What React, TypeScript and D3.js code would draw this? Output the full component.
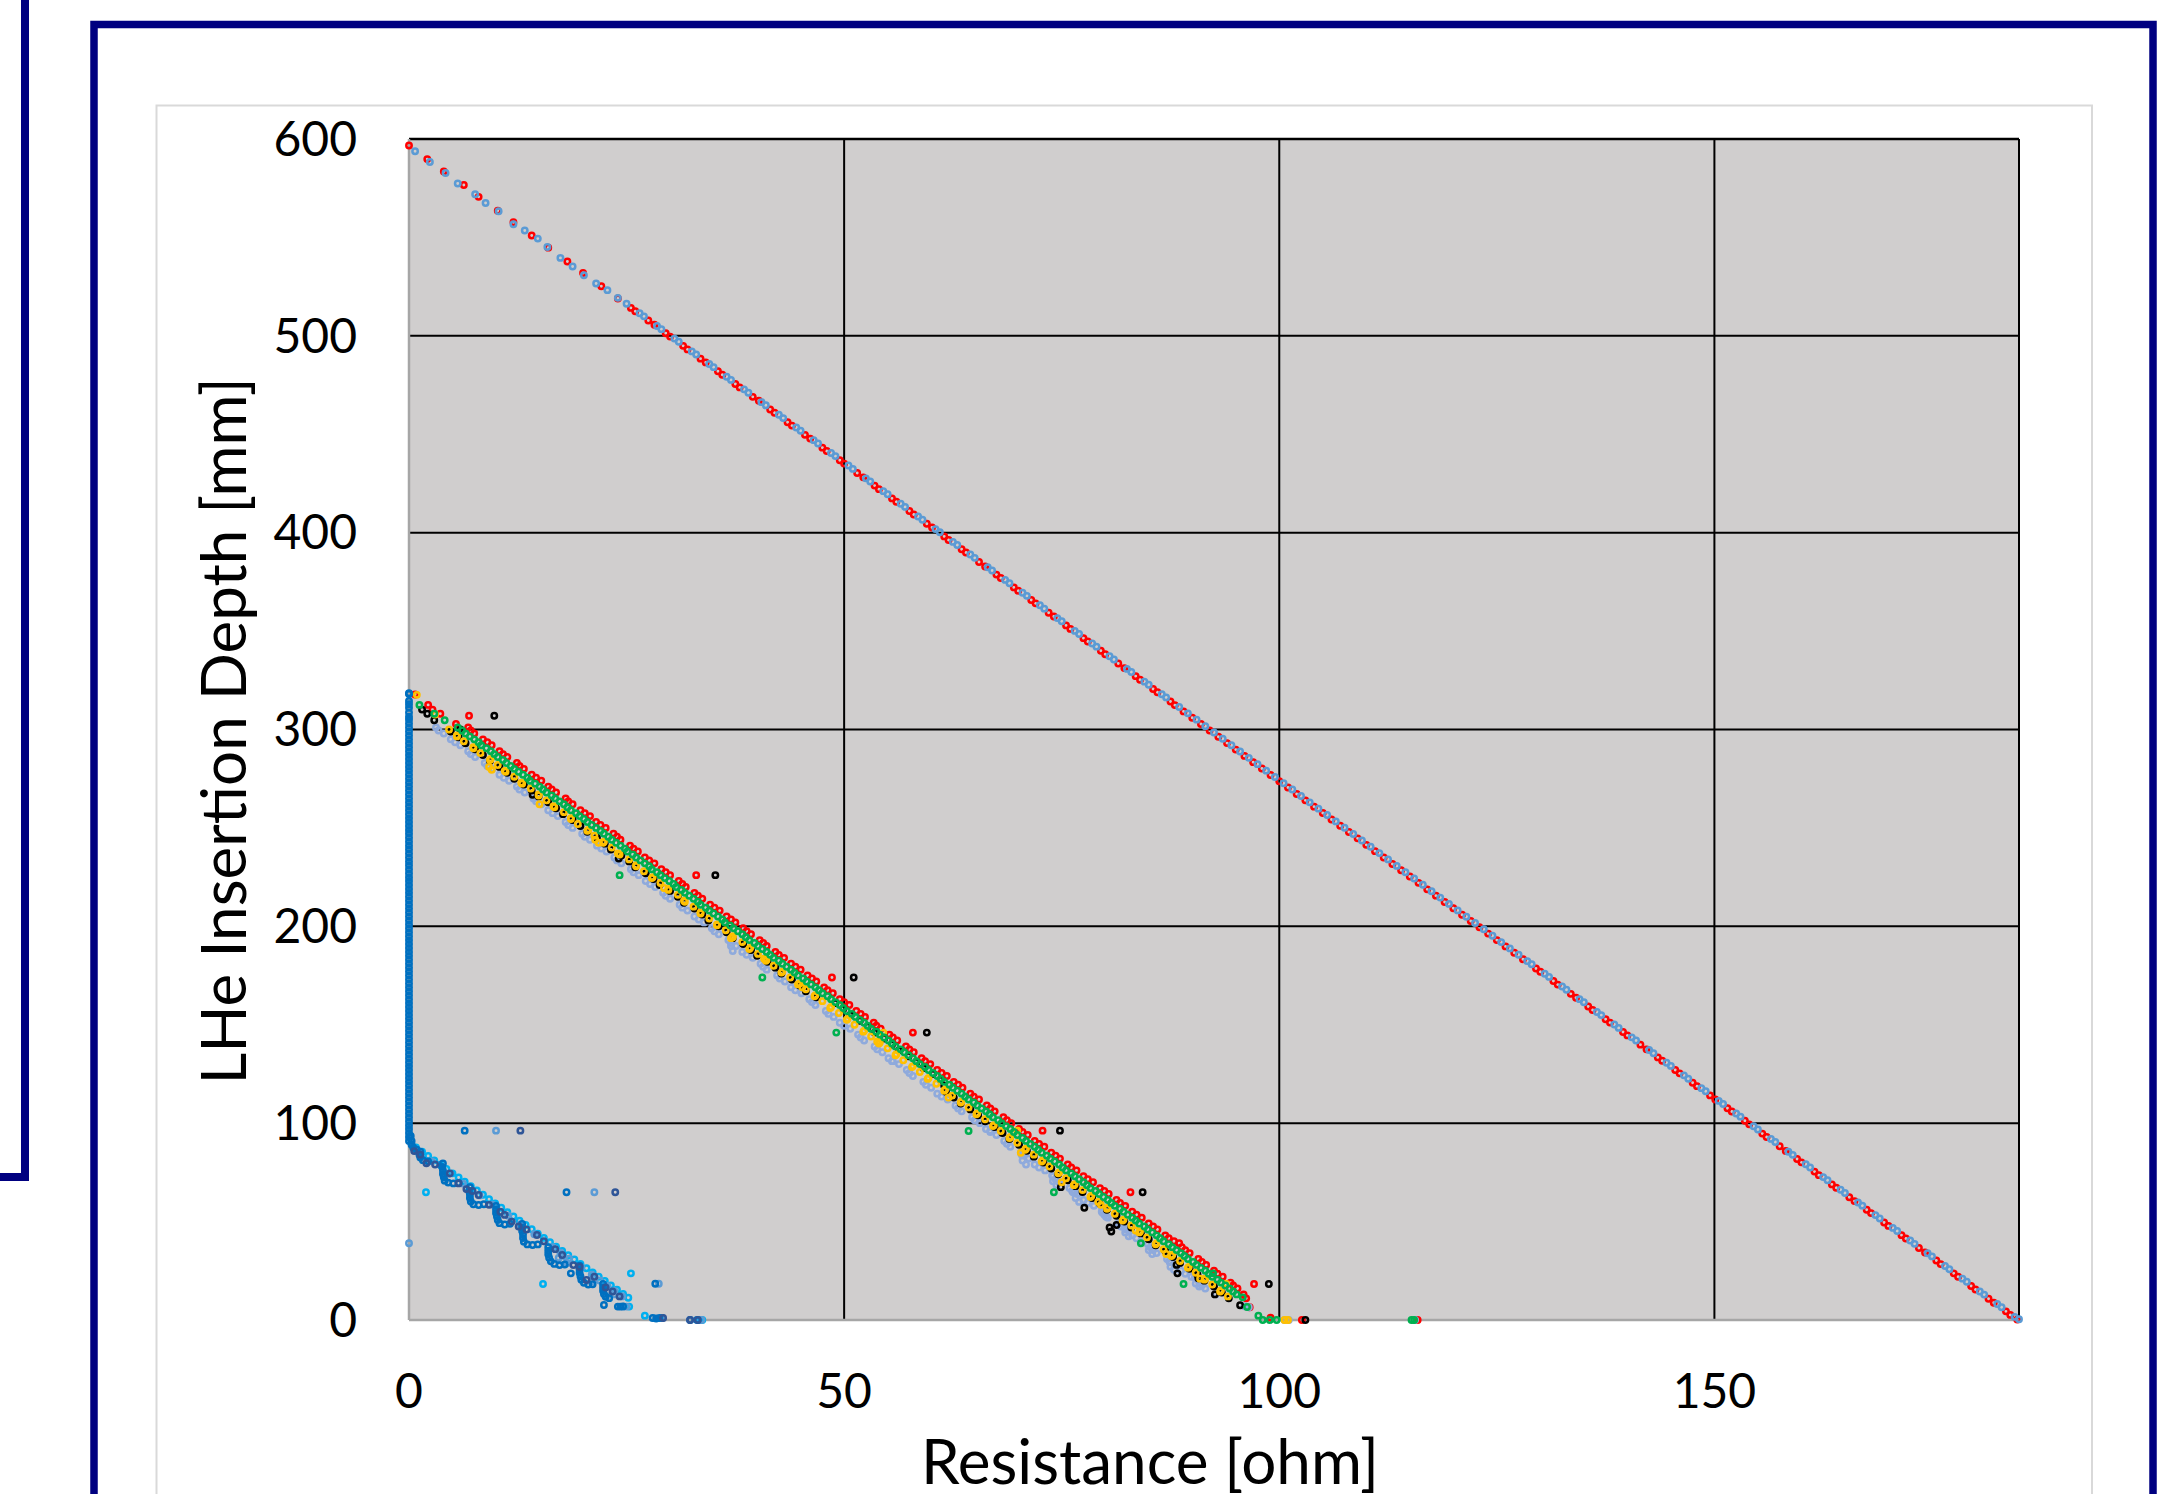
import React from "react";
import * as d3 from "d3";

type Pt = [number, number];

const xTicks = [0, 50, 100, 150];
const yTicks = [0, 100, 200, 300, 400, 500, 600];
const xTitle = "Resistance [ohm]";
const yTitle = "LHe Insertion Depth [mm]";

// long probe, two runs
const longRed: Pt[] = [
  [0, 596.7], [2.1, 589.8], [4, 583.5], [6.3, 576.6], [8, 570.6], [10.2, 563.6], [12, 557.7], [14.1, 551.0], [16, 544.8], [18.2, 537.8],
  [20, 531.9], [22.1, 525.2], [24, 519.0], [25.5, 514.2], [26, 512.5], [27.5, 507.8], [28.2, 505.6], [29.5, 501.3], [30, 499.6], [31.5, 494.9],
  [32, 493.1], [33.5, 488.4], [34.1, 486.5], [35.5, 482.0], [36, 480.2], [37.5, 475.5], [38, 473.8], [39.5, 469.0], [40.2, 467.0], [41.5, 462.6],
  [42, 460.9], [43.5, 456.1], [44, 454.4], [45.5, 449.7], [46.1, 447.8], [47.5, 443.2], [48, 441.5], [49.5, 436.8], [50, 435.1], [51.5, 430.3],
  [52.2, 428.1], [53.5, 423.9], [54, 422.1], [55.5, 417.4], [56, 415.7], [57.5, 411.0], [58, 409.2], [59.5, 404.5], [60.1, 402.6], [61.5, 398.1],
  [62, 396.3], [63.5, 391.6], [64, 389.9], [65.5, 385.1], [66.2, 382.8], [67.5, 378.7], [68, 377.0], [69.5, 372.2], [70, 370.5], [71.5, 365.8],
  [72, 364.1], [73.5, 359.3], [74.1, 357.4], [75.5, 352.9], [76, 351.1], [77.5, 346.4], [78, 344.7], [79.5, 340.0], [80, 338.2], [81.5, 333.5],
  [82.2, 331.2], [83.5, 327.1], [84, 325.3], [85.5, 320.6], [86, 318.9], [87.5, 314.2], [88, 312.4], [89, 309.2], [90, 306.0], [91, 302.8],
  [92, 299.5], [93, 296.3], [94, 293.1], [95, 289.8], [96, 286.6], [97, 283.4], [98, 280.2], [99, 276.9], [100, 273.7], [101, 270.5],
  [102, 267.2], [103, 264.0], [104, 260.8], [105, 257.6], [106, 254.3], [107, 251.1], [108, 247.9], [109, 244.7], [110, 241.4], [111, 238.2],
  [112, 235.0], [113, 231.7], [114, 228.5], [115, 225.3], [116, 222.1], [117, 218.8], [118, 215.6], [119, 212.4], [120, 209.2], [121, 205.9],
  [122, 202.7], [123, 199.5], [124, 196.3], [125, 193.0], [126, 189.8], [127, 186.6], [128, 183.3], [129.5, 178.6], [130, 176.9], [131.5, 172.2],
  [132, 170.4], [133.5, 165.7], [134.1, 163.7], [135.5, 159.3], [136, 157.5], [137.5, 152.8], [138, 151.1], [139.5, 146.3], [140, 144.6], [141.5, 139.9],
  [142.2, 137.5], [143.5, 133.4], [144, 131.7], [145.5, 127.0], [146, 125.3], [147.5, 120.5], [148, 118.8], [149.5, 114.1], [150.1, 112.0], [151.5, 107.6],
  [152, 105.9], [153.5, 101.2], [154, 99.4], [155.5, 94.7], [156, 93.0], [157.5, 88.3], [158.2, 85.9], [159.5, 81.8], [160, 80.1], [161.5, 75.4],
  [162, 73.6], [163.5, 68.9], [164, 67.2], [165.5, 62.4], [166.1, 60.4], [167.5, 56.0], [168, 54.3], [169.5, 49.5], [170, 47.8], [171.5, 43.1],
  [172, 41.4], [173.5, 36.6], [174.2, 34.3], [175.5, 30.2], [176, 28.4], [177.5, 23.7], [178, 22.0], [179.5, 17.3], [180, 15.5], [181.5, 10.8],
  [182.1, 8.8], [183.5, 4.4], [184, 2.6], [184.8, 0.2],
];

const longBlue: Pt[] = [
  [0.7, 593.8], [2.4, 588.3], [4.2, 582.7], [5.6, 577.4], [7.6, 571.9], [8.8, 567.5], [10.3, 563.3], [12.0, 556.7], [13.3, 553.5], [14.8, 549.4],
  [15.9, 545.1], [17.4, 539.6], [18.8, 535.2], [20.1, 530.8], [21.5, 526.6], [22.8, 523.2], [24.0, 519.3], [25, 516.3], [26.5, 511.5], [27, 509.9],
  [28.5, 505.0], [29, 503.4], [30.5, 498.6], [31, 497.0], [32.5, 492.1], [33, 490.5], [34.5, 485.7], [35, 484.1], [36.5, 479.2], [37, 477.6],
  [38.5, 472.8], [39, 471.1], [40.5, 466.3], [41, 464.7], [42.5, 459.9], [43, 458.2], [44.5, 453.4], [45, 451.8], [46.5, 447.0], [47, 445.3],
  [48.5, 440.5], [49, 438.9], [50.5, 434.1], [51, 432.4], [52.5, 427.6], [53, 426.0], [54.5, 421.1], [55, 419.5], [56.5, 414.7], [57, 413.1],
  [58.5, 408.2], [59, 406.6], [60.5, 401.8], [61, 400.2], [62.5, 395.3], [63, 393.7], [64.5, 388.9], [65, 387.2], [66.5, 382.4], [67, 380.8],
  [68.5, 376.0], [69, 374.3], [70.5, 369.5], [71, 367.9], [72.5, 363.1], [73, 361.4], [74.5, 356.6], [75, 355.0], [76.5, 350.1], [77, 348.5],
  [78.5, 343.7], [79, 342.1], [80.5, 337.2], [81, 335.6], [82.5, 330.8], [83, 329.2], [84.5, 324.3], [85, 322.7], [86.5, 317.9], [87, 316.3],
  [88.5, 311.4], [89.5, 308.2], [90.5, 305.0], [91.5, 301.7], [92.5, 298.5], [93.5, 295.3], [94.5, 292.0], [95.5, 288.8], [96.5, 285.6], [97.5, 282.4],
  [98.5, 279.1], [99.5, 275.9], [100.5, 272.7], [101.5, 269.5], [102.5, 266.2], [103.5, 263.0], [104.5, 259.8], [105.5, 256.6], [106.5, 253.3], [107.5, 250.1],
  [108.5, 246.9], [109.5, 243.6], [110.5, 240.4], [111.5, 237.2], [112.5, 234.0], [113.5, 230.7], [114.5, 227.5], [115.5, 224.3], [116.5, 221.1], [117.5, 217.8],
  [118.5, 214.6], [119.5, 211.4], [120.5, 208.1], [121.5, 204.9], [122.5, 201.7], [123.5, 198.5], [124.5, 195.2], [125.5, 192.0], [126.5, 188.8], [127.5, 185.6],
  [128.5, 182.3], [129, 180.7], [130.5, 175.9], [131, 174.3], [132.5, 169.4], [133, 167.8], [134.5, 163.0], [135, 161.4], [136.5, 156.5], [137, 154.9],
  [138.5, 150.1], [139, 148.4], [140.5, 143.6], [141, 142.0], [142.5, 137.2], [143, 135.5], [144.5, 130.7], [145, 129.1], [146.5, 124.3], [147, 122.6],
  [148.5, 117.8], [149, 116.2], [150.5, 111.3], [151, 109.7], [152.5, 104.9], [153, 103.3], [154.5, 98.4], [155, 96.8], [156.5, 92.0], [157, 90.4],
  [158.5, 85.5], [159, 83.9], [160.5, 79.1], [161, 77.5], [162.5, 72.6], [163, 71.0], [164.5, 66.2], [165, 64.5], [166.5, 59.7], [167, 58.1],
  [168.5, 53.3], [169, 51.6], [170.5, 46.8], [171, 45.2], [172.5, 40.4], [173, 38.7], [174.5, 33.9], [175, 32.3], [176.5, 27.4], [177, 25.8],
  [178.5, 21.0], [179, 19.4], [180.5, 14.5], [181, 12.9], [182.5, 8.1], [183, 6.5], [184.5, 1.6], [185, 0.4],
];

// middle probe, five runs
const bandRed: Pt[] = [
  [0.7, 317.8], [2.2, 312.5], [2.7, 310.1], [3.6, 308], [5.4, 302.8],
  [6.8, 301], [7.5, 298], [8.5, 295], [9.5, 292], [10.4, 289], [11.3, 286], [12.4, 283], [13.2, 280], [14.1, 277], [15.2, 274],
  [16.0, 271], [16.9, 268], [18.0, 265], [18.8, 262], [19.7, 259], [20.8, 256], [21.5, 253], [22.6, 250], [23.5, 247], [24.3, 244],
  [25.4, 241], [26.3, 238], [27.1, 235], [28.2, 232], [29.0, 229], [30.0, 226], [31.0, 223], [31.8, 220], [32.8, 217], [33.7, 214],
  [34.6, 211], [35.7, 208], [36.5, 205], [37.5, 202], [38.4, 199], [39.3, 196], [40.3, 193], [41.1, 190], [42.1, 187], [43.1, 184],
  [43.9, 181], [45.0, 178], [45.8, 175], [46.8, 172], [47.7, 169], [48.7, 166], [49.5, 163], [50.6, 160], [51.4, 157], [52.4, 154],
  [53.4, 151], [54.2, 148], [55.2, 145], [56.1, 142], [57.1, 139], [58.0, 136], [58.9, 133], [59.9, 130], [60.7, 127], [61.8, 124],
  [62.6, 121], [63.6, 118], [64.5, 115], [65.5, 112], [66.4, 109], [67.3, 106], [68.3, 103], [69.2, 100], [70.1, 97], [71.1, 94],
  [71.9, 91], [73.0, 88], [73.8, 85], [74.8, 82], [75.7, 79], [76.7, 76], [77.5, 73], [78.6, 70], [79.4, 67], [80.4, 64],
  [81.3, 61], [82.3, 58], [83.1, 55], [84.2, 52], [85.0, 49], [86.0, 46], [86.9, 43], [87.9, 40], [88.8, 37], [89.7, 34],
  [90.7, 31], [91.6, 28], [92.5, 25], [93.5, 22], [94.4, 19], [95.2, 16], [95.9, 13], [96.2, 11],
  [7.1, 299.5], [9.0, 293.5], [10.8, 287.5], [12.7, 281.5], [14.6, 275.5], [16.4, 269.5], [18.3, 263.5], [20.2, 257.5], [22.0, 251.5], [23.9, 245.5],
  [25.8, 239.5], [27.6, 233.5], [29.5, 227.5], [31.4, 221.5], [33.2, 215.5], [35.1, 209.5], [37.0, 203.5], [38.8, 197.5], [40.7, 191.5], [42.5, 185.5],
  [44.4, 179.5], [46.3, 173.5], [48.1, 167.5], [50.0, 161.5], [51.9, 155.5], [53.7, 149.5], [55.6, 143.5], [57.5, 137.5], [59.3, 131.5], [61.2, 125.5],
  [63.1, 119.5], [64.9, 113.5], [66.8, 107.5], [68.7, 101.5], [70.5, 95.5], [72.4, 89.5], [74.3, 83.5], [76.1, 77.5], [78.0, 71.5], [79.9, 65.5],
  [81.7, 59.5], [83.6, 53.5], [85.5, 47.5], [87.3, 41.5], [89.2, 35.5], [91.1, 29.5], [92.9, 23.5], [94.7, 17.5],
  [6.9, 307], [33.0, 226], [48.6, 174], [57.9, 146], [72.8, 96.2], [82.9, 64.9], [88.5, 39], [97.1, 18.3],
  [96.6, 6.5], [99.0, 1.2], [102.6, 0], [115.9, 0],
];

const bandSlate: Pt[] = [
  [3.1, 301], [4.0, 298], [4.8, 295], [5.9, 292], [6.8, 289], [7.6, 286], [8.7, 283], [9.6, 280], [10.4, 277], [11.5, 274],
  [12.4, 271], [13.3, 268], [14.3, 265], [15.2, 262], [16.0, 259], [17.1, 256], [18.0, 253], [18.8, 250], [19.9, 247], [20.8, 244],
  [21.6, 241], [22.7, 238], [23.6, 235], [24.4, 232], [25.5, 229], [26.4, 226], [27.2, 223], [28.3, 220], [29.2, 217], [30.0, 214],
  [31.1, 211], [32.0, 208], [32.8, 205], [33.9, 202], [34.8, 199], [35.6, 196], [36.7, 193], [37.6, 190], [38.3, 187], [39.5, 184],
  [40.4, 181], [41.1, 178], [42.3, 175], [43.2, 172], [43.9, 169], [45.1, 166], [46.0, 163], [46.7, 160], [47.9, 157], [48.8, 154],
  [49.5, 151], [50.7, 148], [51.6, 145], [52.3, 142], [53.5, 139], [54.4, 136], [55.1, 133], [56.3, 130], [57.2, 127], [57.9, 124],
  [59.1, 121], [60.0, 118], [60.7, 115], [61.9, 112], [62.8, 109], [63.5, 106], [64.7, 103], [65.6, 100], [66.3, 97], [67.5, 94],
  [68.4, 91], [69.1, 88], [70.3, 85], [71.2, 82], [71.9, 79], [73.1, 76], [74.0, 73], [74.7, 70], [75.9, 67], [76.8, 64],
  [77.5, 61], [78.7, 58], [79.6, 55], [80.3, 52], [81.5, 49], [82.4, 46], [83.1, 43], [84.3, 40], [85.2, 37], [85.9, 34],
  [87.1, 31], [88.0, 28], [88.7, 25], [89.9, 22], [90.8, 19], [91.5, 16], [92.7, 13],
  [3.4, 299.5], [5.3, 293.5], [7.1, 287.5], [9.0, 281.5], [10.9, 275.5], [12.7, 269.5], [14.6, 263.5], [16.5, 257.5], [18.3, 251.5], [20.2, 245.5],
  [22.1, 239.5], [23.9, 233.5], [25.8, 227.5], [27.7, 221.5], [29.5, 215.5], [31.4, 209.5], [33.3, 203.5], [35.1, 197.5], [37.0, 191.5], [38.8, 185.5],
  [40.7, 179.5], [42.6, 173.5], [44.4, 167.5], [46.3, 161.5], [48.2, 155.5], [50.0, 149.5], [51.9, 143.5], [53.8, 137.5], [55.6, 131.5], [57.5, 125.5],
  [59.4, 119.5], [61.2, 113.5], [63.1, 107.5], [65.0, 101.5], [66.8, 95.5], [68.7, 89.5], [70.6, 83.5], [72.4, 77.5], [74.3, 71.5], [76.2, 65.5],
  [78.0, 59.5], [79.9, 53.5], [81.8, 47.5], [83.6, 41.5], [85.5, 35.5], [87.4, 29.5], [89.2, 23.5], [91.1, 17.5],
  [70.4, 84], [70.5, 81], [70.9, 79], [73.9, 73.5], [74.0, 70.5], [74.4, 68.5], [76.5, 65], [76.6, 62], [77.0, 60],
  [79.6, 57.5], [79.7, 54.5], [80.1, 52.5], [82.2, 47], [82.3, 44.5], [82.7, 42.5], [84.9, 38.5], [85.0, 35.5], [85.4, 33.5],
  [87.4, 30], [87.5, 27], [87.9, 25.5], [90.3, 21.5], [90.4, 18.5], [90.8, 17], [37.0, 190], [37.2, 187.5], [55.5, 131.5],
  [66.8, 96.2], [76.3, 64.9], [96.0, 7], [96.5, 6.5], [100.6, 0], [101.1, 0], [115.6, 0],
];

const bandYellow: Pt[] = [
  [0.9, 317.6], [3.0, 307.6],
  [4.6, 300], [5.5, 297], [6.3, 294], [7.4, 291], [8.2, 288], [9.4, 285], [10.2, 282], [11.0, 279], [12.1, 276], [12.9, 273],
  [14.0, 270], [14.9, 267], [15.8, 264], [16.6, 261], [17.8, 258], [18.6, 255], [19.4, 252], [20.6, 249], [21.3, 246], [22.4, 243],
  [23.3, 240], [24.0, 237], [25.3, 234], [26.1, 231], [27.0, 228], [28.0, 225], [28.9, 222], [29.8, 219], [30.9, 216], [31.6, 213],
  [32.7, 210], [33.5, 207], [34.5, 204], [35.4, 201], [36.4, 198], [37.2, 195], [38.3, 192], [39.2, 189], [40.1, 186], [41.1, 183],
  [41.9, 180], [42.9, 177], [43.8, 174], [44.9, 171], [45.6, 168], [46.7, 165], [47.5, 162], [48.5, 159], [49.4, 156], [50.4, 153],
  [51.2, 150], [52.3, 147], [53.1, 144], [54.1, 141], [55.0, 138], [56.0, 135], [56.8, 132], [57.9, 129], [58.7, 126], [59.7, 123],
  [60.6, 120], [61.6, 117], [62.4, 114], [63.5, 111], [64.3, 108], [65.3, 105], [66.2, 102], [67.2, 99], [68.0, 96], [69.1, 93],
  [69.9, 90], [70.9, 87], [71.8, 84], [72.8, 81], [73.6, 78], [74.7, 75], [75.5, 72], [76.5, 69], [77.4, 66], [78.4, 63],
  [79.2, 60], [80.3, 57], [81.1, 54], [82.1, 51], [83.0, 48], [84.0, 45], [84.8, 42], [85.9, 39], [86.7, 36], [87.7, 33],
  [88.6, 30], [89.6, 27], [90.4, 24], [91.5, 21], [92.3, 18], [93.3, 15], [94.1, 12],
  [5.5, 296.5], [7.4, 290.5], [9.3, 284.5], [11.1, 278.5], [13.0, 272.5], [14.9, 266.5], [16.7, 260.5], [18.6, 254.5], [20.5, 248.5], [22.3, 242.5],
  [24.2, 236.5], [26.1, 230.5], [27.9, 224.5], [29.8, 218.5], [31.7, 212.5], [33.5, 206.5], [35.4, 200.5], [37.2, 194.5], [39.1, 188.5], [41.0, 182.5],
  [42.8, 176.5], [44.7, 170.5], [46.6, 164.5], [48.4, 158.5], [50.3, 152.5], [52.2, 146.5], [54.0, 140.5], [55.9, 134.5], [57.8, 128.5], [59.6, 122.5],
  [61.5, 116.5], [63.4, 110.5], [65.2, 104.5], [67.1, 98.5], [69.0, 92.5], [70.8, 86.5], [72.7, 80.5], [74.6, 74.5], [76.4, 68.5], [78.3, 62.5],
  [80.2, 56.5], [82.0, 50.5], [83.9, 44.5], [85.8, 38.5], [87.6, 32.5], [89.5, 26.5], [91.4, 20.5], [93.2, 14.5],
  [9.2, 281], [9.5, 279.5], [15.0, 262], [21.4, 244], [21.8, 242.5], [29.3, 219.5], [37.0, 194], [40.8, 183.5], [45.2, 169],
  [53.8, 141.5], [62.0, 113], [70.3, 85], [75.0, 70], [79.5, 58.5], [83.5, 45.5], [87.0, 33.5], [90.9, 21],
  [54.5, 146], [69.9, 96.2], [93.9, 18.3], [100.6, 0], [101.0, 0],
];

const bandBlack: Pt[] = [
  [1.5, 310.1], [2.1, 308], [2.9, 304.7], [5.9, 300],
  [4.8, 299], [5.7, 296], [6.5, 293], [7.6, 290], [8.5, 287], [9.3, 284], [10.4, 281], [11.3, 278], [12.1, 275], [13.2, 272],
  [14.1, 269], [14.9, 266], [16.0, 263], [16.9, 260], [17.7, 257], [18.8, 254], [19.7, 251], [20.5, 248], [21.6, 245], [22.5, 242],
  [23.2, 239], [24.4, 236], [25.3, 233], [26.0, 230], [27.2, 227], [28.1, 224], [28.8, 221], [30.0, 218], [30.9, 215], [31.6, 212],
  [32.8, 209], [33.7, 206], [34.4, 203], [35.6, 200], [36.5, 197], [37.2, 194], [38.4, 191], [39.3, 188], [40.0, 185], [41.2, 182],
  [42.1, 179], [42.8, 176], [44.0, 173], [44.9, 170], [45.6, 167], [46.8, 164], [49.0, 161], [49.9, 158], [50.7, 155], [51.8, 152],
  [52.7, 149], [53.5, 146], [54.6, 143], [55.5, 140], [56.3, 137], [57.4, 134], [58.3, 131], [59.1, 128], [60.2, 125], [61.1, 122],
  [61.5, 119], [61.7, 116], [62.6, 113], [63.4, 110], [64.5, 107], [65.4, 104], [66.2, 101], [67.3, 98], [68.2, 95], [69.0, 92],
  [70.1, 89], [71.0, 86], [71.8, 83], [72.9, 80], [73.8, 77], [74.6, 74], [75.7, 71], [76.6, 68], [77.4, 65], [78.5, 62],
  [79.4, 59], [80.2, 56], [81.3, 53], [82.2, 50], [83.0, 47], [84.1, 44], [85.0, 41], [85.8, 38], [86.9, 35], [87.8, 32],
  [88.6, 29], [89.7, 26], [90.6, 23], [91.4, 20], [92.5, 17], [93.4, 14], [94.2, 11],
  [80.5, 47], [80.7, 45], [81.3, 48.3], [77.6, 57], [74.9, 67.5], [88.2, 28], [90.7, 21.2], [92.6, 13], [14.2, 266.8], [24.1, 234.5],
  [9.8, 307], [35.2, 226], [51.1, 174], [59.5, 146], [74.8, 96.2], [84.3, 64.9], [88.3, 23.7], [98.8, 18.3], [95.5, 7.5], [103.0, 0],
];

const bandGreen: Pt[] = [
  [1.2, 312.5], [2.9, 308], [4.1, 304.7],
  [5.6, 301], [6.5, 298], [7.5, 295], [8.3, 292], [9.4, 289], [10.2, 286], [11.2, 283], [12.1, 280], [13.1, 277], [13.9, 274],
  [15.0, 271], [15.8, 268], [16.8, 265], [17.8, 262], [18.6, 259], [19.6, 256], [20.5, 253], [21.5, 250], [22.4, 247], [23.3, 244],
  [24.3, 241], [25.1, 238], [26.1, 235], [27.1, 232], [27.9, 229], [28.9, 226], [29.9, 223], [30.7, 220], [31.7, 217], [32.7, 214],
  [33.5, 211], [34.5, 208], [35.5, 205], [36.3, 202], [37.3, 199], [38.3, 196], [39.1, 193], [40.1, 190], [41.1, 187], [41.9, 184],
  [42.9, 181], [43.9, 178], [44.7, 175], [45.7, 172], [46.7, 169], [47.5, 166], [48.5, 163], [49.5, 160], [50.3, 157], [51.3, 154],
  [52.3, 151], [53.1, 148], [54.1, 145], [55.1, 142], [55.9, 139], [56.9, 136], [57.9, 133], [58.7, 130], [59.7, 127], [60.7, 124],
  [61.5, 121], [62.5, 118], [63.5, 115], [64.3, 112], [65.3, 109], [66.3, 106], [67.1, 103], [68.1, 100], [69.1, 97], [69.9, 94],
  [70.9, 91], [71.9, 88], [72.7, 85], [73.7, 82], [74.7, 79], [75.5, 76], [76.5, 73], [77.5, 70], [78.3, 67], [79.3, 64],
  [80.3, 61], [81.1, 58], [82.1, 55], [83.1, 52], [83.9, 49], [84.9, 46], [85.9, 43], [86.7, 40], [87.7, 37], [88.7, 34],
  [89.5, 31], [90.5, 28], [91.5, 25], [92.3, 22], [93.3, 19], [94.3, 16], [95.1, 13], [95.8, 11.5],
  [6.1, 299.5], [7.0, 296.5], [8.0, 293.5], [8.9, 290.5], [9.8, 287.5], [10.8, 284.5], [11.7, 281.5], [12.6, 278.5], [13.6, 275.5], [14.5, 272.5],
  [15.4, 269.5], [16.4, 266.5], [17.3, 263.5], [18.2, 260.5], [19.2, 257.5], [20.1, 254.5], [21.0, 251.5], [22.0, 248.5], [22.9, 245.5], [23.8, 242.5],
  [24.8, 239.5], [25.7, 236.5], [26.6, 233.5], [27.6, 230.5], [28.5, 227.5], [29.4, 224.5], [30.4, 221.5], [31.3, 218.5], [32.2, 215.5], [33.2, 212.5],
  [34.1, 209.5], [35.0, 206.5], [36.0, 203.5], [36.9, 200.5], [37.8, 197.5], [38.7, 194.5], [39.7, 191.5], [40.6, 188.5], [41.5, 185.5], [42.5, 182.5],
  [43.4, 179.5], [44.3, 176.5], [45.3, 173.5], [46.2, 170.5], [47.1, 167.5], [48.1, 164.5], [49.0, 161.5], [49.9, 158.5], [50.9, 155.5], [51.8, 152.5],
  [52.7, 149.5], [53.7, 146.5], [54.6, 143.5], [55.5, 140.5], [56.5, 137.5], [57.4, 134.5], [58.3, 131.5], [59.3, 128.5], [60.2, 125.5], [61.1, 122.5],
  [62.1, 119.5], [63.0, 116.5], [63.9, 113.5], [64.9, 110.5], [65.8, 107.5], [66.7, 104.5], [67.7, 101.5], [68.6, 98.5], [69.5, 95.5], [70.5, 92.5],
  [71.4, 89.5], [72.3, 86.5], [73.3, 83.5], [74.2, 80.5], [75.1, 77.5], [76.1, 74.5], [77.0, 71.5], [77.9, 68.5], [78.9, 65.5], [79.8, 62.5],
  [80.7, 59.5], [81.7, 56.5], [82.6, 53.5], [83.5, 50.5], [84.5, 47.5], [85.4, 44.5], [86.3, 41.5], [87.3, 38.5], [88.2, 35.5], [89.1, 32.5],
  [90.1, 29.5], [91.0, 26.5], [91.9, 23.5], [92.9, 20.5], [93.8, 17.5], [94.7, 14.5],
  [24.2, 226], [40.6, 174], [49.1, 146], [64.3, 96], [74.1, 64.9], [84.1, 39], [89.0, 18.3], [92.4, 23.7],
  [96.3, 6.6], [97.6, 2.2], [98.1, 0], [98.9, 0], [99.7, 0], [115.2, 0], [115.5, 0],
];

// short probe, four runs; depths where the reading stayed at 0 ohm
const blueZeroDepths = [
  318.4, 318, 314.5, 312.8, 311, 308.6, 306.5,
  305, 303, 301, 299, 297, 295, 293, 291, 289, 287, 285, 283, 281, 279, 277, 275, 273, 271, 269, 267, 265, 263, 261,
  259, 257, 255, 253, 251, 249, 247, 245, 243, 241, 239, 237, 235, 233, 231, 229, 227, 225, 223, 221, 219, 217, 215, 213,
  211, 209, 207, 205, 203, 201, 199, 197, 195, 193, 191, 189, 187, 185, 183, 181, 179, 177, 175, 173, 171, 169, 167, 165,
  163, 161, 159, 157, 155, 153, 151, 149, 147, 145, 143, 141, 139, 137, 135, 133, 131, 129, 127, 125, 123, 121, 119, 117,
  115, 113, 111, 109, 107, 105, 103, 101, 99, 97, 95, 93, 91,
];

const lowCyan: Pt[] = [
  [0.8, 87.7], [1.5, 85.5], [2.2, 83.3], [2.9, 81.1], [3.6, 78.9], [4.3, 76.7], [5.0, 74.5], [5.7, 72.4], [6.4, 70.2], [7.1, 68.0],
  [7.8, 65.8], [8.5, 63.6], [9.2, 61.4], [9.9, 59.2], [10.6, 57.0], [11.3, 54.8], [12.0, 52.6], [12.7, 50.4], [13.4, 48.3], [14.1, 46.1],
  [14.8, 43.9], [15.5, 41.7], [16.2, 39.5], [16.9, 37.3], [17.6, 35.1], [18.3, 32.9], [19.0, 30.7], [19.7, 28.5], [20.4, 26.3], [21.1, 24.2],
  [21.8, 22.0], [22.5, 19.8], [23.2, 17.6], [23.9, 15.4], [24.6, 13.2], [25.2, 11.3],
  [1.95, 64.9], [15.4, 18.3], [25.5, 23.7], [25.3, 6.8], [27.1, 2.2], [33.4, 0], [33.7, 0],
];

const lowMid: Pt[] = [
  [0.9, 85.9], [2.6, 80.6], [4.6, 74.3], [6.2, 69.3], [8.1, 63.3], [9.6, 58.6], [11.4, 53.0], [12.8, 48.6], [14.4, 43.6], [16.5, 37.0],
  [17.4, 34.2], [18.4, 31.1], [19.8, 26.7], [21.0, 23.0], [21.9, 20.1], [22.8, 17.3], [23.6, 14.8], [24.5, 12.0],
  [17.2, 31.5], [17.6, 30.0], [18.2, 29.0], [21.0, 19.5], [22.8, 14.5], [23.6, 13.0],
  [10.0, 96.2], [21.3, 64.9], [0, 39.0], [28.7, 18.4], [24.6, 6.8], [25.0, 6.8], [29.1, 1.0], [33.6, 0],
];

const lowBlue: Pt[] = [
  [0.2, 93.5], [0.3, 91.0], [0.3, 89.0], [0.5, 87.5], [0.9, 86.5], [1.3, 85.5], [1.2, 84.0], [1.3, 82.5], [1.6, 81.2], [2.2, 80.6],
  [3.9, 79.5], [3.8, 77.8], [3.9, 76.0], [3.9, 74.2], [4.0, 72.5], [4.1, 70.8], [4.5, 69.8], [5.1, 69.4], [5.7, 69.6],
  [7.0, 67.5], [6.9, 65.6], [7.0, 63.8], [7.0, 62.0], [7.1, 60.2], [7.4, 58.8], [8.0, 58.4], [8.6, 58.8],
  [10.0, 58.0], [10.0, 56.2], [10.0, 54.4], [10.1, 52.6], [10.2, 50.8], [10.4, 49.2], [11.0, 48.5], [11.6, 48.9],
  [13.0, 48.8], [13.0, 47.0], [13.0, 45.2], [13.1, 43.4], [13.1, 41.6], [13.2, 39.8], [13.6, 38.4], [14.2, 38.1], [14.8, 38.4],
  [16.0, 37.0], [16.0, 35.2], [16.0, 33.4], [16.1, 31.6], [16.3, 29.8], [16.7, 28.5], [17.3, 27.9], [17.9, 28.2],
  [19.6, 27.6], [19.6, 25.8], [19.6, 24.0], [19.7, 22.2], [19.8, 20.4], [20.1, 18.9], [20.6, 18.0], [21.1, 18.2],
  [22.3, 18.3], [22.3, 16.6], [22.3, 14.9], [22.4, 13.2], [22.6, 11.8], [23.0, 11.1],
  [24.0, 6.8], [24.3, 6.8], [24.6, 6.9],
  [6.4, 96.2], [18.1, 64.9], [18.6, 23.7], [22.4, 7.6], [28.3, 18.4], [28.0, 1.0], [28.4, 0.8], [28.8, 1.0], [32.3, 0], [33.1, 0],
];

const lowNavy: Pt[] = [
  [0.6, 85.8], [1.3, 84.0], [2.0, 79.6], [3.0, 79.0], [4.7, 74.5], [5.7, 69.4], [6.6, 66.5], [7.3, 65.5], [8.0, 63.5], [9.2, 58.5],
  [10.5, 55.0], [11.0, 53.4], [11.8, 50.0], [12.6, 47.5], [13.5, 46.0], [14.7, 43.2], [15.5, 40.0], [16.8, 36.0], [17.6, 33.0], [18.9, 27.9],
  [19.6, 27.0], [20.4, 20.3], [21.3, 22.0], [22.6, 16.5], [23.4, 14.5], [24.2, 12.0],
  [12.8, 96.2], [23.7, 64.9], [29.2, 1.0], [32.3, 0], [33.2, 0],
];

const series = [
  { name: "long A", color: "#FF0000", points: longRed },
  { name: "long B", color: "#5B9BD5", points: longBlue },
  { name: "mid 1", color: "#FF0000", points: bandRed },
  { name: "mid 2", color: "#8FAADC", points: bandSlate },
  { name: "mid 4", color: "#000000", points: bandBlack },
  { name: "mid 3", color: "#FFC000", points: bandYellow },
  { name: "mid 5", color: "#00B050", points: bandGreen },
  { name: "short 1", color: "#00B0F0", points: lowCyan },
  { name: "short 2", color: "#5B9BD5", points: lowMid },
  { name: "short 3", color: "#0070C0", points: [...blueZeroDepths.map((d) => [0, d] as Pt), ...lowBlue] },
  { name: "short 4", color: "#2F5597", points: lowNavy },
];

const left = 409, right = 2019, top = 139, bottom = 1320;

export default function App() {
  const x = d3.scaleLinear().domain([0, 185]).range([left, right]);
  const y = d3.scaleLinear().domain([0, 600]).range([bottom, top]);
  const font = "Lato, 'Open Sans', sans-serif";

  return (
    <svg
      width={2184}
      height={1494}
      style={{ position: "absolute", left: 0, top: 0, display: "block", background: "#fff" }}
      fontFamily={font}
    >
      {/* slide frames */}
      <rect x={-100} y={-100} width={125} height={1277} fill="none" stroke="#000080" strokeWidth={8} />
      <rect x={94} y={24.5} width={2059} height={1600} fill="#fff" stroke="#000080" strokeWidth={7.5} />
      <rect x={156.5} y={105.5} width={1935.5} height={1500} fill="#fff" stroke="#D9D9D9" strokeWidth={2} />

      {/* plot area */}
      <rect x={left} y={top} width={right - left} height={bottom - top} fill="#D0CECE" />
      {yTicks.filter((t) => t > 0).map((t) => (
        <line key={"gy" + t} x1={left} x2={right} y1={y(t)} y2={y(t)} stroke="#000" strokeWidth={t === 600 ? 2.5 : 2} />
      ))}
      {xTicks.filter((t) => t > 0).map((t) => (
        <line key={"gx" + t} x1={x(t)} x2={x(t)} y1={top} y2={bottom} stroke="#000" strokeWidth={2} />
      ))}
      <line x1={right} x2={right} y1={top} y2={bottom} stroke="#000" strokeWidth={2} />
      <line x1={left} x2={left} y1={top} y2={bottom} stroke="#A6A6A6" strokeWidth={2.5} />
      <line x1={left} x2={right} y1={bottom} y2={bottom} stroke="#A6A6A6" strokeWidth={2.5} />

      {series.map((s) => (
        <g key={s.name}>
          {s.points.map((d, i) => (
            <circle key={i} cx={x(d[0])} cy={y(d[1])} r={2.7} fill="none" stroke={s.color} strokeWidth={2.5} />
          ))}
        </g>
      ))}

      {/* tick labels */}
      {xTicks.map((t) => (
        <text key={"tx" + t} x={x(t)} y={1408} textAnchor="middle" fontSize={48} fill="#000">
          {t}
        </text>
      ))}
      {yTicks.map((t) => (
        <text key={"ty" + t} x={357} y={y(t)} dy="0.35em" textAnchor="end" fontSize={48} fill="#000">
          {t}
        </text>
      ))}

      <text x={1150} y={1484} textAnchor="middle" fontSize={62} fill="#000">
        {xTitle}
      </text>
      <text transform="translate(246,731) rotate(-90)" textAnchor="middle" fontSize={62} fill="#000">
        {yTitle}
      </text>
    </svg>
  );
}
